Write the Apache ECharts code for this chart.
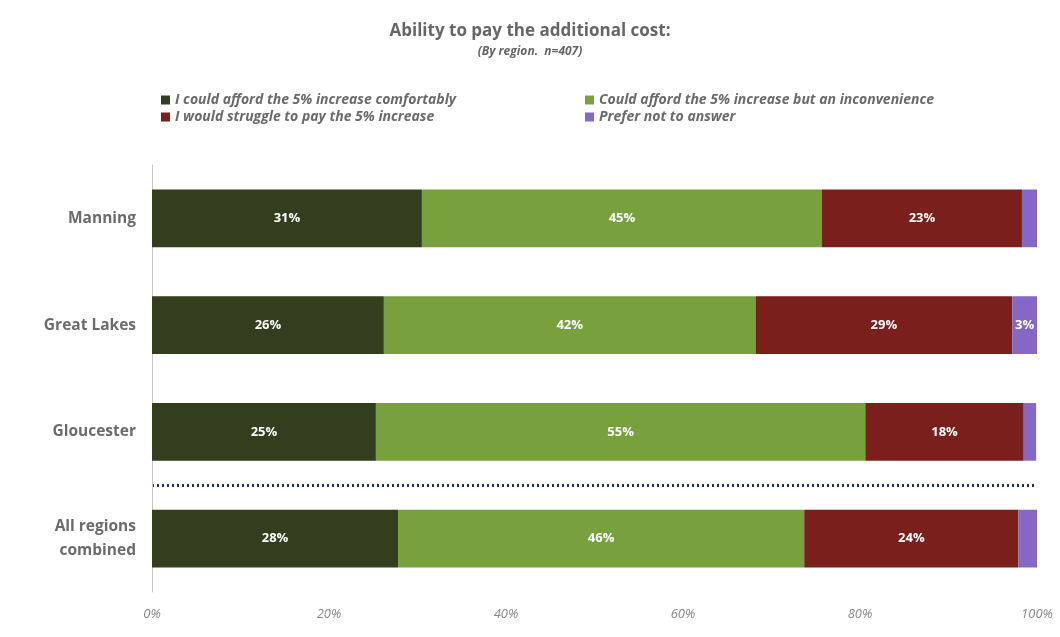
<!DOCTYPE html>
<html><head><meta charset="utf-8">
<script src="https://cdn.jsdelivr.net/npm/echarts@6/dist/echarts.min.js"></script>
<style>html,body{margin:0;padding:0;background:#fff}#c{width:1060px;height:637px}</style>
</head><body><div id="c"></div>
<script>
// categories bottom to top
const categories = ['All regions combined', 'Gloucester', 'Great Lakes', 'Manning'];
const seriesNames = [
  'I could afford the 5% increase comfortably',
  'Could afford the 5% increase but an inconvenience',
  'I would struggle to pay the 5% increase',
  'Prefer not to answer'
];
const comfortable = [27.8, 25.3, 26.2, 30.5];
const inconvenience = [45.9, 55.3, 42.0, 45.2];
const struggle = [24.2, 17.9, 29.0, 22.6];
const preferNot = [2.1, 1.4, 2.8, 1.7];
const xTicks = [0, 20, 40, 60, 80, 100];
const colors = ['#323e1d', '#78a03c', '#7a1f1c', '#8567c6'];

const values = [comfortable, inconvenience, struggle, preferNot];
const chart = echarts.init(document.getElementById('c'));
const lblFont = 'Open Sans';
const legendText = {fontFamily: lblFont, fontSize: 14, fontStyle: 'italic', fontWeight: 'bold', color: '#6a6a6a', padding: [0,0,0,0]};
chart.setOption({
  animation: false,
  title: {
    text: 'Ability to pay the additional cost:',
    subtext: '(By region.  n=407)',
    left: 'center', top: 18, itemGap: 6,
    textStyle: {fontFamily: lblFont, fontSize: 17, fontWeight: 'bold', color: '#666'},
    subtextStyle: {fontFamily: lblFont, fontSize: 12, fontWeight: 'bold', fontStyle: 'italic', color: '#666'}
  },
  legend: [
    {data: [seriesNames[0], seriesNames[2]], orient: 'vertical', left: 156, top: 88,
     itemWidth: 9, itemHeight: 9, itemGap: 3, icon: 'rect', textStyle: legendText},
    {data: [seriesNames[1], seriesNames[3]], orient: 'vertical', left: 580, top: 88,
     itemWidth: 9, itemHeight: 9, itemGap: 3, icon: 'rect', textStyle: legendText}
  ],
  grid: {left: 152, right: 23, top: 165, bottom: 45},
  xAxis: {
    type: 'value', min: 0, max: 100, interval: 20,
    axisLine: {show: false}, axisTick: {show: false}, splitLine: {show: false},
    axisLabel: {formatter: v => xTicks.includes(v) ? v + '%' : '', margin: 16,
      fontFamily: lblFont, fontSize: 13, fontStyle: 'italic', color: '#888'}
  },
  yAxis: {
    type: 'category', data: categories,
    axisLine: {show: true, lineStyle: {color: '#c8c8c8', width: 1}},
    axisTick: {show: false},
    axisLabel: {margin: 16, fontFamily: lblFont, fontSize: 15.5, fontWeight: 'bold', color: '#6b6b6b', lineHeight: 24,
      formatter: v => v === 'All regions combined' ? 'All regions\ncombined' : v},
    splitLine: {show: true, lineStyle: {type: [2, 3], width: 3,
      color: ['rgba(0,0,0,0)', '#1f3060', 'rgba(0,0,0,0)', 'rgba(0,0,0,0)', 'rgba(0,0,0,0)']}}
  },
  series: seriesNames.map((n, i) => ({
    name: n, type: 'bar', stack: 'total', barCategoryGap: '46%',
    itemStyle: {color: colors[i]},
    label: {show: true, position: 'inside', color: '#fff', fontFamily: lblFont, fontSize: 13, fontWeight: 'bold',
      formatter: p => p.value >= 2.5 ? Math.round(p.value) + '%' : ''},
    data: values[i]
  }))
});
</script></body></html>
